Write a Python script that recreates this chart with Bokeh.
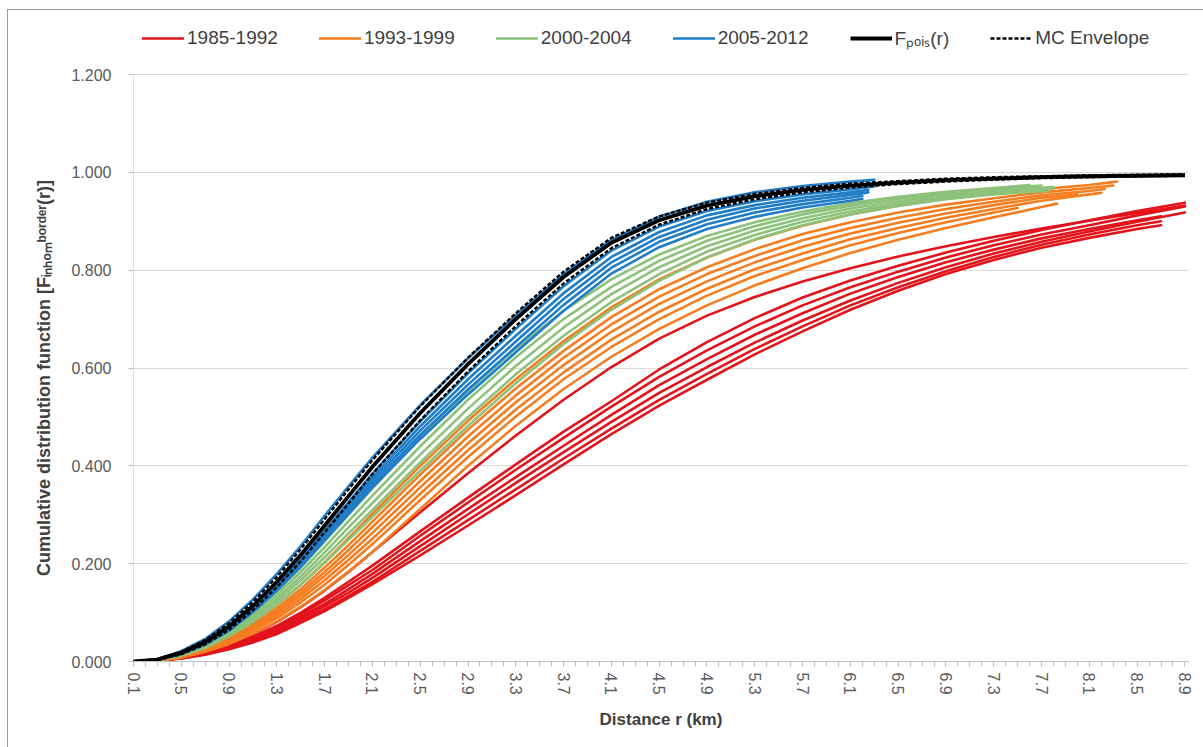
import math
from bokeh.plotting import figure
from bokeh.models import Range1d, FixedTicker, NumeralTickFormatter, Legend, LegendItem
from bokeh.embed import file_html
from bokeh.resources import INLINE

# ---------------- data ----------------
R_GRID = [0.1, 0.3, 0.5, 0.7, 0.9, 1.1, 1.3, 1.5, 1.7, 1.9, 2.1,
          2.5, 2.9, 3.3, 3.7, 4.1, 4.5, 4.9, 5.3, 5.7, 6.1, 6.5,
          6.9, 7.3, 7.7, 8.1, 8.5, 8.9]
X_TICK_VALUES = [0.1, 0.5, 0.9, 1.3, 1.7, 2.1, 2.5, 2.9, 3.3, 3.7, 4.1, 4.5,
                 4.9, 5.3, 5.7, 6.1, 6.5, 6.9, 7.3, 7.7, 8.1, 8.5, 8.9]
X_CATEGORIES = [round(0.1 + 0.1 * k, 1) for k in range(89)]
Y_TICKS = [0.0, 0.2, 0.4, 0.6, 0.8, 1.0, 1.2]

# 1985-1992 (red)
RED_1985_1992 = [
    [0, .002, .008, .019, .035, .056, .081, .111, .145, .183, .224, .305, .385, .462, .535, .602, .660, .707, .745, .777, .804, .828, .849, .868, .885, .901, .917, .932],
    [0, .002, .008, .018, .033, .051, .073, .100, .130, .163, .196, .266, .335, .403, .470, .532, .597, .653, .702, .744, .779, .809, .836, .860, .882, .902, .921, .938],
    [0, .002, .007, .017, .031, .048, .069, .096, .125, .156, .187, .257, .325, .392, .457, .521, .582, .636, .685, .728, .765, .797, .826, .851, .873, .892, .912, .930],
    [0, .002, .007, .016, .029, .045, .065, .091, .118, .148, .179, .246, .312, .377, .441, .504, .565, .618, .668, .712, .752, .786, .816, .842, .865, .884, .902],
    [0, .002, .007, .015, .028, .043, .062, .087, .113, .141, .171, .236, .301, .365, .428, .490, .549, .602, .652, .697, .738, .774, .806, .834, .858, .879, .899, .918],
    [0, .002, .006, .015, .026, .041, .059, .083, .107, .134, .163, .226, .289, .352, .415, .476, .535, .588, .639, .685, .728, .765, .798, .827, .852, .873, .892],
    [0, .002, .006, .014, .025, .039, .056, .079, .103, .130, .158, .217, .278, .340, .403, .465, .523, .576, .628, .675, .719, .758, .792, .821, .846, .866, .884],
]
RED_ENDS = [None, None, None, (8.7, .910), None, (8.7, .900), (8.7, .892)]

# 1993-1999 (orange)
ORANGE_1993_1999 = [
    [0, .003, .012, .027, .050, .080, .116, .157, .203, .252, .302, .400, .492, .577, .655, .724, .781, .826, .862, .891, .914, .932, .946, .957, .966, .974],
    [0, .003, .011, .025, .047, .075, .109, .148, .192, .238, .286, .382, .474, .558, .635, .704, .761, .806, .843, .874, .898, .918, .934, .947, .959, .968],
    [0, .003, .010, .024, .045, .072, .104, .141, .183, .228, .275, .369, .460, .544, .621, .689, .746, .792, .829, .861, .886, .907, .925, .940, .953, .962],
    [0, .003, .010, .024, .043, .069, .099, .135, .175, .218, .263, .356, .446, .530, .606, .674, .731, .777, .816, .848, .875, .897, .916, .933, .948],
    [0, .002, .009, .022, .041, .065, .094, .128, .166, .208, .251, .343, .432, .515, .591, .658, .715, .762, .802, .834, .863, .886, .907, .925, .942, .955],
    [0, .002, .008, .021, .039, .062, .089, .121, .157, .198, .240, .330, .418, .501, .577, .643, .700, .748, .788, .821, .851, .876, .898, .918],
    [0, .002, .008, .020, .036, .057, .082, .112, .146, .184, .224, .312, .400, .482, .557, .623, .680, .728, .769, .804, .835, .862, .886, .908, .929],
]
ORANGE_ENDS = [(8.33, .981), (8.3, .973), (8.23, .966), (8.0, .955), (8.2, .958), (7.5, .927), (7.83, .936)]

# 2000-2004 (green)
GREEN_2000_2004 = [
    [0, .004, .016, .036, .064, .100, .143, .192, .245, .300, .354, .457, .553, .640, .717, .781, .832, .870, .898, .920, .937, .950, .960, .968],
    [0, .004, .015, .034, .061, .095, .136, .183, .234, .287, .339, .440, .535, .622, .700, .766, .819, .860, .890, .914, .932, .946, .957, .966, .973],
    [0, .004, .014, .032, .058, .090, .129, .174, .223, .274, .324, .423, .517, .604, .683, .751, .806, .849, .881, .906, .926, .941, .953, .962],
    [0, .003, .013, .030, .055, .086, .123, .166, .213, .262, .310, .407, .500, .587, .666, .735, .792, .838, .872, .899, .920, .936, .949, .959],
    [0, .003, .012, .028, .052, .081, .116, .157, .202, .249, .296, .390, .482, .569, .649, .719, .778, .826, .863, .892, .914, .931, .945, .955],
]
GREEN_ENDS = [(7.6, .974), None, (7.8, .970), (7.8, .967), (7.75, .962)]

# 2005-2012 (blue)
BLUE_2005_2012 = [
    [0, .005, .021, .046, .082, .127, .179, .236, .298, .358, .417, .524, .620, .708, .792, .862, .909, .940, .959, .972, .981],
    [0, .004, .017, .038, .069, .110, .157, .210, .268, .326, .384, .491, .589, .680, .767, .840, .889, .921, .941, .955, .965],
    [0, .004, .017, .037, .067, .107, .153, .205, .262, .319, .376, .481, .577, .666, .753, .827, .878, .912, .933, .948, .959],
    [0, .004, .016, .036, .066, .105, .150, .201, .257, .313, .369, .472, .566, .654, .741, .816, .868, .903, .926, .942, .954],
    [0, .003, .016, .035, .064, .103, .147, .197, .252, .307, .362, .463, .556, .643, .729, .805, .858, .894, .918, .935, .948],
    [0, .003, .015, .035, .063, .101, .145, .194, .248, .302, .356, .455, .546, .632, .717, .793, .847, .884, .909, .928, .942],
]
BLUE_ENDS = [(6.3, .985), (6.3, .971), (6.25, .964), (6.25, .959), (6.2, .952), (6.2, .946)]

# F_pois(r) and Monte Carlo envelope
F_POIS = [0, .004, .018, .040, .072, .114, .163, .218, .278, .338, .398, .508, .608, .700, .786, .856, .902, .932, .951, .964, .973, .979, .984, .987, .990, .992, .993, .994]
MC_UPPER = [0, .005, .020, .044, .078, .122, .173, .230, .291, .352, .412, .522, .621, .712, .797, .866, .910, .938, .956, .968, .977, .982, .987, .990, .992, .994, .995, .996]
MC_LOWER = [0, .003, .015, .035, .065, .105, .152, .205, .264, .323, .383, .493, .593, .686, .773, .845, .893, .925, .945, .959, .969, .976, .981, .985, .988, .990, .992, .993]

GROUPS = [
    ("1985-1992", RED_1985_1992, RED_ENDS, "#E3131B"),
    ("1993-1999", ORANGE_1993_1999, ORANGE_ENDS, "#F47D20"),
    ("2000-2004", GREEN_2000_2004, GREEN_ENDS, "#8CC27A"),
    ("2005-2012", BLUE_2005_2012, BLUE_ENDS, "#1F7DC8"),
]

FONT = "Liberation Sans"

# layout: frame extends above 1.2 so the legend can sit inside it
FRAME_TOP_PX, GRID_TOP_PX, AXIS_PX = 14, 74, 661
Y_MAX = Y_TICKS[-1] * (AXIS_PX - FRAME_TOP_PX) / (AXIS_PX - GRID_TOP_PX)

# ---------------- figure ----------------
p = figure(width=1195, height=737, output_backend="svg", toolbar_location=None,
           x_range=Range1d(0.1, 8.93), y_range=Range1d(0, Y_MAX),
           min_border_left=125, min_border_right=15, min_border_top=FRAME_TOP_PX - 10,
           min_border_bottom=86)
p.margin = (10, 0, 0, 8)
p.styles = {"outline": "1px solid #9a9a9a"}
p.outline_line_color = None
p.background_fill_color = "white"
p.border_fill_color = "white"


def xy(vals, end):
    xs = list(R_GRID[:len(vals)])
    ys = list(vals)
    if end is not None:
        xs.append(end[0])
        ys.append(end[1])
    return xs, ys


# y-axis line only up to the top tick
p.segment(x0=[X_TICK_VALUES[0]], y0=[Y_TICKS[0]], x1=[X_TICK_VALUES[0]], y1=[Y_TICKS[-1]],
          line_color="#BFBFBF", line_width=1)

legend_items = []
for name, curves, ends, color in GROUPS:
    first = None
    for vals, end in zip(curves, ends):
        xs, ys = xy(vals, end)
        r = p.line(xs, ys, line_color=color, line_width=2.6, line_cap="round", line_join="round")
        if first is None:
            first = r
    legend_items.append(LegendItem(label=name, renderers=[first]))

r_pois = p.line(R_GRID, F_POIS, line_color="black", line_width=3.8, line_join="round")
r_up = p.line(R_GRID, MC_UPPER, line_color="black", line_width=2.4, line_dash="4 2")
p.line(R_GRID, MC_LOWER, line_color="black", line_width=2.4, line_dash="4 2")
legend_items.append(LegendItem(label="F\u209a\u2092\u1d62\u209b(r)", renderers=[r_pois]))
legend_items.append(LegendItem(label="MC Envelope", renderers=[r_up]))

legend = Legend(items=legend_items, orientation="horizontal", location=(9, 610),
                border_line_color=None, background_fill_alpha=0,
                label_text_font=FONT, label_text_font_size="19px", label_text_color="#404040",
                glyph_width=42, glyph_height=16, label_standoff=3, spacing=41, padding=4,
                margin=0)
p.add_layout(legend)

# axes
xa = p.xaxis[0]
xa.ticker = FixedTicker(ticks=X_TICK_VALUES, minor_ticks=X_CATEGORIES)
xa.formatter = NumeralTickFormatter(format="0.0")
xa.major_label_orientation = -math.pi / 2
xa.axis_line_color = "#BFBFBF"
xa.major_tick_line_color = "#BFBFBF"
xa.minor_tick_line_color = "#BFBFBF"
xa.major_tick_in = 0
xa.major_tick_out = 5
xa.minor_tick_in = 0
xa.minor_tick_out = 5
xa.major_label_text_font = FONT
xa.major_label_text_font_size = "16px"
xa.major_label_text_color = "#595959"
xa.major_label_standoff = 6
xa.axis_label = "Distance r (km)"
xa.axis_label_text_font = FONT
xa.axis_label_text_font_size = "17px"
xa.axis_label_text_font_style = "bold"
xa.axis_label_text_color = "#404040"
xa.axis_label_standoff = 12

ya = p.yaxis[0]
ya.ticker = FixedTicker(ticks=Y_TICKS)
ya.formatter = NumeralTickFormatter(format="0.000")
ya.axis_line_color = None
ya.major_tick_line_color = "#BFBFBF"
ya.minor_tick_line_color = None
ya.major_tick_in = 0
ya.major_tick_out = 5
ya.major_label_text_font = FONT
ya.major_label_text_font_size = "16px"
ya.major_label_text_color = "#595959"
ya.major_label_standoff = 17
ya.axis_label = ("Cumulative distribution function [F\u1d62\u2099\u2095\u2092\u2098"
                 "\u1d47\u1d52\u02b3\u1d48\u1d49\u02b3(r)]" + "\u00a0" * 16)
ya.axis_label_text_font = FONT
ya.axis_label_text_font_size = "18px"
ya.axis_label_text_font_style = "bold"
ya.axis_label_text_color = "#404040"
ya.axis_label_standoff = 14

p.xgrid.grid_line_color = None
p.ygrid.grid_line_color = "#D9D9D9"
p.ygrid.ticker = FixedTicker(ticks=Y_TICKS)

open("out.html", "w").write(file_html(p, INLINE))
